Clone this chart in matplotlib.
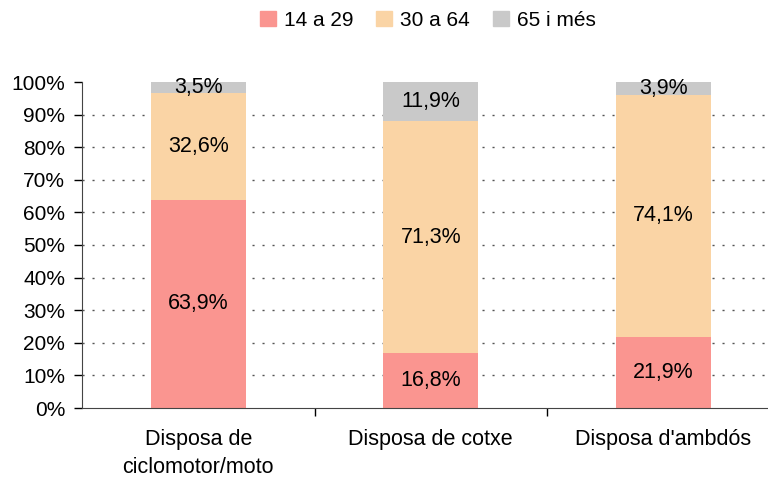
import numpy as np
import matplotlib.pyplot as plt
from matplotlib.patches import Patch

plt.rcParams['font.family'] = ['Liberation Sans', 'DejaVu Sans']

categories = ['Disposa de\nciclomotor/moto', 'Disposa de cotxe', "Disposa d'ambdós"]
series_names = ['14 a 29', '30 a 64', '65 i més']
young = [63.9, 16.8, 21.9]
middle = [32.6, 71.3, 74.1]
old = [3.5, 11.9, 3.9]
colors = ['#FA9590', '#FAD4A5', '#C9C9C9']


def main():
    fig = plt.figure(figsize=(7.68, 4.78), dpi=100)
    ax = fig.add_axes([82 / 768, 1 - 408 / 478, 697.5 / 768, 326 / 478])

    x = np.arange(len(categories))
    w = 0.41
    bottom = np.zeros(len(categories))
    for vals, col in zip([young, middle, old], colors):
        vals = np.array(vals)
        ax.bar(x, vals, w, bottom=bottom, color=col, zorder=2)
        for xi, b, v in zip(x, bottom, vals):
            ax.text(xi, b + v / 2, f'{v:.1f}%'.replace('.', ','),
                    ha='center', va='center', fontsize=15.5, zorder=3)
        bottom = bottom + vals

    # dotted grid lines
    for lev in range(10, 100, 10):
        ax.axhline(lev, color='#555555', linestyle=(0, (1.5, 5.7)), linewidth=1, zorder=1)

    ax.set_xlim(-0.5, 2.5)
    ax.set_ylim(0, 100)
    ax.set_yticks(range(0, 101, 10))
    ax.set_yticklabels([f'{v}%' for v in range(0, 101, 10)], fontsize=15)
    ax.set_xticks(x)
    ax.set_xticklabels(categories, fontsize=15.5, linespacing=1.42)
    ax.tick_params(axis='x', length=0, pad=15)
    ax.set_xticks([0.5, 1.5], minor=True)
    ax.tick_params(axis='x', which='minor', length=6, width=1, direction='out')
    ax.tick_params(axis='y', length=6, width=1, direction='out', pad=6)

    for s in ['top', 'right']:
        ax.spines[s].set_visible(False)
    ax.spines['left'].set_color('#444444')
    ax.spines['bottom'].set_color('#444444')

    handles = [Patch(color=c, label=n) for c, n in zip(colors, series_names)]
    fig.legend(handles=handles, loc='center', bbox_to_anchor=(428 / 768, 1 - 20 / 478),
               ncol=3, frameon=False, fontsize=15, handlelength=0.75, handleheight=0.75,
               handletextpad=0.4, columnspacing=1.1)

    fig.savefig('out.png', dpi=100)


if __name__ == "__main__":
    main()
